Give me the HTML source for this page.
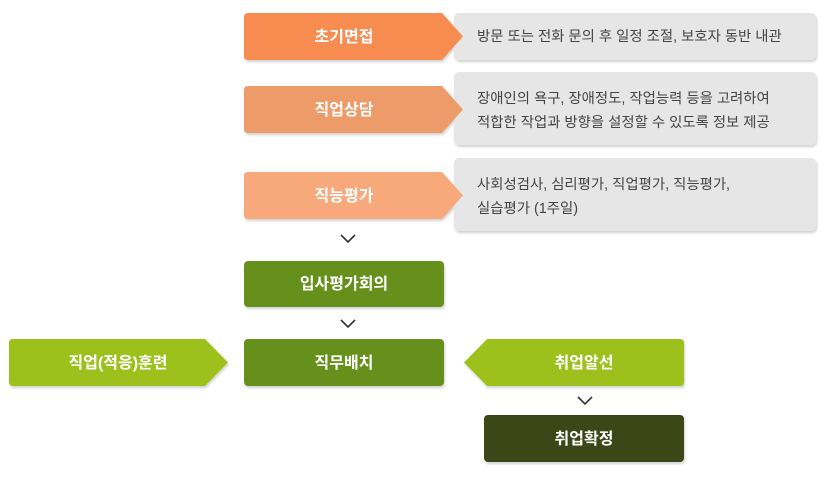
<!DOCTYPE html>
<html><head><meta charset="utf-8"><style>
body{margin:0;background:#fff;width:827px;height:479px;overflow:hidden}
svg text{font-family:"Liberation Sans","Noto Sans CJK KR",sans-serif}
.w{fill:#fff;font-size:16px;font-weight:bold;text-anchor:middle}
.g{fill:#444;font-size:14.4px}
</style></head><body>
<svg width="827" height="479" viewBox="0 0 827 479">
<defs><filter id="s" x="-5%" y="-10%" width="110%" height="130%"><feDropShadow dx="1" dy="2" stdDeviation="1.2" flood-color="#000" flood-opacity="0.18"/></filter></defs>
<g filter="url(#s)">
<rect x="454" y="13" width="362" height="47" rx="5" fill="#e6e6e6"/>
<rect x="454" y="72" width="362" height="73" rx="5" fill="#e6e6e6"/>
<rect x="454" y="158" width="362" height="73" rx="5" fill="#e6e6e6"/>
<path d="M248 13H442L463 36.5L442 60H248Q244 60 244 56V17Q244 13 248 13Z" fill="#f68c4f"/>
<path d="M248 86H442L463 109.5L442 133H248Q244 133 244 129V90Q244 86 248 86Z" fill="#ee9b6b"/>
<path d="M248 172H442L463 195.5L442 219H248Q244 219 244 215V176Q244 172 248 172Z" fill="#f7a97c"/>
<rect x="244" y="261" width="200" height="46" rx="4" fill="#66901f"/>
<rect x="244" y="339" width="200" height="47" rx="4" fill="#66901f"/>
<path d="M13 339H205L228 362.5L205 386H13Q9 386 9 382V343Q9 339 13 339Z" fill="#9dc11a"/>
<path d="M487 339H680Q684 339 684 343V382Q684 386 680 386H487L464 362.5Z" fill="#9dc11a"/>
<rect x="484" y="415" width="200" height="47" rx="4" fill="#3a4716"/>
</g>
<g fill="none" stroke="#333" stroke-width="1.6">
<path d="M341 235L348 242L355 235"/>
<path d="M341 320L348 327L355 320"/>
<path d="M578 397L585 404L592 397"/>
</g>
<text class="w" x="344" y="42">초기면접</text>
<text class="w" x="344" y="115">직업상담</text>
<text class="w" x="344" y="201">직능평가</text>
<text class="w" x="344" y="289">입사평가회의</text>
<text class="w" x="344" y="368">직무배치</text>
<text class="w" x="118" y="368">직업(적응)훈련</text>
<text class="w" x="584" y="368">취업알선</text>
<text class="w" x="584" y="444">취업확정</text>
<text class="g" x="477" y="41">방문 또는 전화 문의 후 일정 조절, 보호자 동반 내관</text>
<text class="g" x="477" y="103">장애인의 욕구, 장애정도, 작업능력 등을 고려하여</text>
<text class="g" x="477" y="127">적합한 작업과 방향을 설정할 수 있도록 정보 제공</text>
<text class="g" x="477" y="189">사회성검사, 심리평가, 직업평가, 직능평가,</text>
<text class="g" x="477" y="213">실습평가 (1주일)</text>
</svg>
</body></html>
